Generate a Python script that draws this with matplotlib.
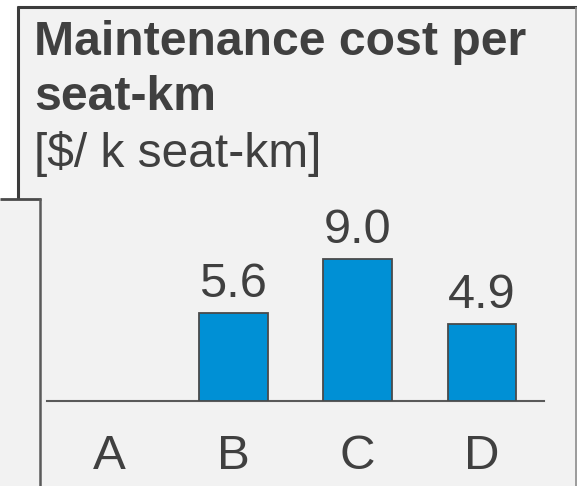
import matplotlib as mpl
import matplotlib.pyplot as plt
from matplotlib.patches import Rectangle
from matplotlib.lines import Line2D
mpl.use('agg')

categories = ['A', 'B', 'C', 'D']
values = [None, 5.6, 9.0, 4.9]
title_lines = ['Maintenance cost per', 'seat-km']
unit_line = '[$/ k seat-km]'

W, H = 577, 486
dpi = 100
textColor = '#404040'
barColor = '#0090D5'
bgColor = '#F2F2F2'

plt.rcParams['font.family'] = ['Liberation Sans', 'DejaVu Sans']

fig = plt.figure(figsize=(W / dpi, H / dpi), dpi=dpi)
fig.patch.set_facecolor('white')

def fx(x):
    return x / W

def fy(y):
    return 1 - y / H

# panel backgrounds
fig.add_artist(Rectangle((fx(18), 0), 1 - fx(18), fy(7), transform=fig.transFigure,
                         facecolor=bgColor, edgecolor='none', zorder=0))
fig.add_artist(Rectangle((0, 0), fx(41), fy(199), transform=fig.transFigure,
                         facecolor=bgColor, edgecolor='none', zorder=0))

# borders
def line(x0, y0, x1, y1, color, lw):
    fig.add_artist(Line2D([fx(x0), fx(x1)], [fy(y0), fy(y1)], transform=fig.transFigure,
                          color=color, linewidth=lw, solid_capstyle='butt', zorder=5))

line(17, 7, 577, 7, '#3C3C3C', 2.2)
line(18, 6, 18, 199, '#3C3C3C', 2.2)
line(576, 7, 576, 486, '#8C8C8C', 1.2)
line(0, 199, 41, 199, '#4A4A4A', 2.0)
line(40, 198, 40, 486, '#5A5A5A', 1.8)

# title
fig.text(fx(34), fy(55), title_lines[0], fontsize=34.7, fontweight='bold',
         color=textColor, va='baseline', ha='left')
fig.text(fx(34), fy(110), title_lines[1], fontsize=34.7, fontweight='bold',
         color=textColor, va='baseline', ha='left')
fig.text(fx(34), fy(167), unit_line, fontsize=34.5, color=textColor,
         va='baseline', ha='left')

# bar chart axes: baseline at y=401, 15.8 px per unit
ax = fig.add_axes([fx(47), fy(401), fx(544) - fx(47), 158 / H])
ax.set_facecolor('none')
ax.set_xlim(-0.5, 3.5)
ax.set_ylim(0, 10)
for s in ['top', 'right', 'left']:
    ax.spines[s].set_visible(False)
ax.spines['bottom'].set_color('#5A5A5A')
ax.spines['bottom'].set_linewidth(1.5)
ax.set_yticks([])

xs = [i for i, v in enumerate(values) if v is not None]
hs = [v for v in values if v is not None]
ax.bar(xs, hs, width=0.55, color=barColor, edgecolor='#4A4A4A', linewidth=1.3, zorder=3)
for x, v in zip(xs, hs):
    ax.annotate(f'{v:.1f}', (x, v), xytext=(0, 16), textcoords='offset pixels',
                ha='center', va='baseline', fontsize=35, color=textColor,
                annotation_clip=False)

ax.set_xticks(range(len(categories)))
ax.set_xticklabels(categories, fontsize=35.5, color=textColor)
ax.tick_params(axis='x', length=0, pad=68 * 72 / dpi)
plt.setp(ax.get_xticklabels(), va='baseline')

plt.savefig('out.png', dpi=dpi, facecolor=fig.get_facecolor())
